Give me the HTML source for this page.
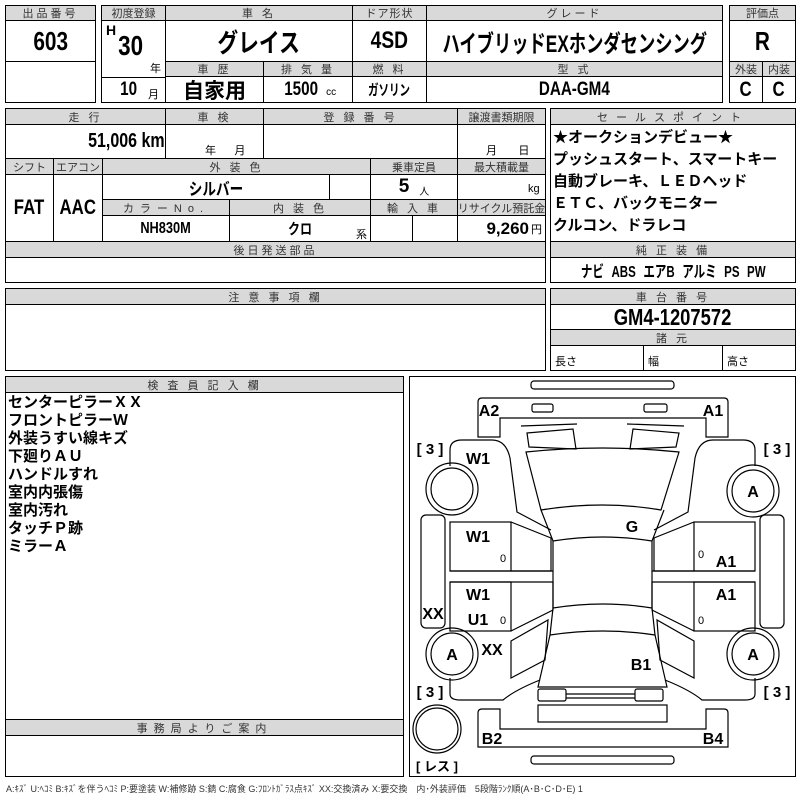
<!DOCTYPE html>
<html><head><meta charset="utf-8"><style>
*{margin:0;padding:0;box-sizing:border-box}
body{width:800px;height:800px;background:#fff;position:relative;overflow:hidden;font-family:"Liberation Sans","Noto Sans CJK JP",sans-serif;color:#000}
.b{position:absolute;border:1px solid #000}
.c{position:absolute;border:1px solid #000;display:flex;align-items:center;justify-content:center;white-space:nowrap}
.h{background:#d9d9d9;font-size:11px;letter-spacing:3px;color:#333}
.v{font-weight:bold}
.n{display:inline-block;transform:scaleX(.8)}
.t{position:absolute;white-space:nowrap}
</style></head><body>
<!-- box1 -->
<div class="c h" style="left:5px;top:5px;width:91px;height:16px">出品番号</div>
<div class="c v" style="left:5px;top:20px;width:91px;height:42px;font-size:26px"><span class="n">603</span></div>
<div class="b" style="left:5px;top:61px;width:91px;height:42px"></div>
<!-- box2 -->
<div class="c h" style="left:101px;top:5px;width:65px;height:16px;letter-spacing:0">初度登録</div>
<div class="c h" style="left:165px;top:5px;width:188px;height:16px">車 名</div>
<div class="c h" style="left:352px;top:5px;width:75px;height:16px;letter-spacing:1px">ドア形状</div>
<div class="c h" style="left:426px;top:5px;width:297px;height:16px">グレード</div>
<div class="b" style="left:101px;top:20px;width:65px;height:58px"></div>
<div class="t v" style="left:106px;top:22px;font-size:14px">H</div>
<div class="t v" style="left:115px;top:30px;font-size:28px"><span class="n">30</span></div>
<div class="t" style="left:150px;top:60px;font-size:11px">年</div>
<div class="b" style="left:101px;top:77px;width:65px;height:26px"></div>
<div class="t v" style="left:118px;top:79px;font-size:19px"><span class="n">10</span></div>
<div class="t" style="left:148px;top:86px;font-size:11px">月</div>
<div class="c v" style="left:165px;top:20px;width:188px;height:42px;font-size:26px"><span class="n">グレイス</span></div>
<div class="c v" style="left:352px;top:20px;width:75px;height:42px;font-size:24px"><span class="n">4SD</span></div>
<div class="c v" style="left:426px;top:20px;width:297px;height:42px;font-size:24px;overflow:hidden"><span class="n" style="transform:scaleX(.72)">ハイブリッドEXホンダセンシング</span></div>
<div class="c h" style="left:165px;top:61px;width:99px;height:16px">車 歴</div>
<div class="c h" style="left:263px;top:61px;width:90px;height:16px">排 気 量</div>
<div class="c h" style="left:352px;top:61px;width:75px;height:16px">燃 料</div>
<div class="c h" style="left:426px;top:61px;width:297px;height:16px">型 式</div>
<div class="c v" style="left:165px;top:76px;width:99px;height:27px;font-size:21px">自家用</div>
<div class="c v" style="left:263px;top:76px;width:90px;height:27px;font-size:19px"><span class="n">1500</span><span style="font-size:10px;font-weight:normal;margin:6px 0 0 4px">cc</span></div>
<div class="c v" style="left:352px;top:76px;width:75px;height:27px;font-size:15px"><span class="n" style="transform:scaleX(.7)">ガソリン</span></div>
<div class="c v" style="left:426px;top:76px;width:297px;height:27px;font-size:19px"><span class="n">DAA-GM4</span></div>
<!-- box3 -->
<div class="c h" style="left:729px;top:5px;width:67px;height:16px;letter-spacing:0">評価点</div>
<div class="c v" style="left:729px;top:20px;width:67px;height:42px;font-size:26px"><span class="n">R</span></div>
<div class="c h" style="left:729px;top:61px;width:34px;height:16px;letter-spacing:0">外装</div>
<div class="c h" style="left:762px;top:61px;width:34px;height:16px;letter-spacing:0">内装</div>
<div class="c v" style="left:729px;top:76px;width:34px;height:27px;font-size:21px"><span class="n">C</span></div>
<div class="c v" style="left:762px;top:76px;width:34px;height:27px;font-size:21px"><span class="n">C</span></div>
<!-- box4 -->
<div class="c h" style="left:5px;top:108px;width:161px;height:17px">走 行</div>
<div class="c h" style="left:165px;top:108px;width:99px;height:17px">車 検</div>
<div class="c h" style="left:263px;top:108px;width:195px;height:17px">登 録 番 号</div>
<div class="c h" style="left:457px;top:108px;width:89px;height:17px;letter-spacing:0">譲渡書類期限</div>
<div class="c v" style="left:5px;top:124px;width:161px;height:35px;font-size:20px;justify-content:flex-end;padding-right:0"><span class="n" style="transform-origin:right">51,006 km</span></div>
<div class="b" style="left:165px;top:124px;width:99px;height:35px"></div>
<div class="t" style="left:205px;top:142px;font-size:11px">年&nbsp;&nbsp;&nbsp;&nbsp;&nbsp;&nbsp;月</div>
<div class="b" style="left:263px;top:124px;width:195px;height:35px"></div>
<div class="b" style="left:457px;top:124px;width:89px;height:35px"></div>
<div class="t" style="left:486px;top:142px;font-size:11px">月&nbsp;&nbsp;&nbsp;&nbsp;&nbsp;&nbsp;&nbsp;日</div>
<div class="c h" style="left:5px;top:158px;width:49px;height:17px;letter-spacing:0">シフト</div>
<div class="c h" style="left:53px;top:158px;width:50px;height:17px;letter-spacing:0">エアコン</div>
<div class="c h" style="left:102px;top:158px;width:269px;height:17px">外 装 色</div>
<div class="c h" style="left:370px;top:158px;width:88px;height:17px;letter-spacing:0">乗車定員</div>
<div class="c h" style="left:457px;top:158px;width:89px;height:17px;letter-spacing:0">最大積載量</div>
<div class="c v" style="left:5px;top:174px;width:49px;height:68px;font-size:21px"><span class="n">FAT</span></div>
<div class="c v" style="left:53px;top:174px;width:50px;height:68px;font-size:21px"><span class="n">AAC</span></div>
<div class="c v" style="left:102px;top:174px;width:228px;height:26px;font-size:17px"><span class="n">シルバー</span></div>
<div class="b" style="left:329px;top:174px;width:42px;height:26px"></div>
<div class="c v" style="left:370px;top:174px;width:88px;height:26px;font-size:19px">5<span style="font-size:10px;font-weight:normal;margin:6px 0 0 10px">人</span></div>
<div class="b" style="left:457px;top:174px;width:89px;height:26px"></div>
<div class="t" style="left:528px;top:183px;font-size:11px">kg</div>
<div class="c h" style="left:102px;top:199px;width:128px;height:17px;letter-spacing:6px">カラーNo.</div>
<div class="c h" style="left:229px;top:199px;width:142px;height:17px">内 装 色</div>
<div class="c h" style="left:370px;top:199px;width:88px;height:17px">輸 入 車</div>
<div class="c h" style="left:457px;top:199px;width:89px;height:17px;letter-spacing:0">リサイクル預託金</div>
<div class="c v" style="left:102px;top:215px;width:128px;height:27px;font-size:16px"><span class="n">NH830M</span></div>
<div class="c v" style="left:229px;top:215px;width:142px;height:27px;font-size:15px"><span class="n">クロ</span></div>
<div class="t" style="left:356px;top:226px;font-size:11px">系</div>
<div class="b" style="left:370px;top:215px;width:43px;height:27px"></div>
<div class="b" style="left:412px;top:215px;width:46px;height:27px"></div>
<div class="c v" style="left:457px;top:215px;width:89px;height:27px;font-size:17px;justify-content:flex-end;padding-right:3px">9,260<span style="font-size:11px;font-weight:normal;margin-left:2px">円</span></div>
<div class="c h" style="left:5px;top:241px;width:541px;height:17px">後日発送部品</div>
<div class="b" style="left:5px;top:257px;width:541px;height:26px"></div>
<!-- box5 -->
<div class="c h" style="left:550px;top:108px;width:246px;height:17px;letter-spacing:8px">セールスポイント</div>
<div class="b" style="left:550px;top:124px;width:246px;height:118px"></div>
<div class="t" style="left:553px;top:127px;font-size:15px;font-weight:bold;line-height:22px">★オークションデビュー★<br>プッシュスタート、スマートキー<br>自動ブレーキ、ＬＥＤヘッド<br>ＥＴＣ、バックモニター<br>クルコン、ドラレコ</div>
<div class="c h" style="left:550px;top:241px;width:246px;height:17px">純 正 装 備</div>
<div class="c v" style="left:550px;top:257px;width:246px;height:26px;font-size:16px;word-spacing:6px"><span class="n" style="transform:scaleX(.72)">ナビ ABS エアB アルミ PS PW</span></div>
<!-- box6 -->
<div class="c h" style="left:5px;top:288px;width:541px;height:17px">注 意 事 項 欄</div>
<div class="b" style="left:5px;top:304px;width:541px;height:67px"></div>
<!-- box7 -->
<div class="c h" style="left:550px;top:288px;width:246px;height:17px">車 台 番 号</div>
<div class="c v" style="left:550px;top:304px;width:246px;height:26px;font-size:23px"><span class="n">GM4-1207572</span></div>
<div class="c h" style="left:550px;top:329px;width:246px;height:17px">諸 元</div>
<div class="b" style="left:550px;top:345px;width:94px;height:26px"></div>
<div class="b" style="left:643px;top:345px;width:80px;height:26px"></div>
<div class="b" style="left:722px;top:345px;width:74px;height:26px"></div>
<div class="t" style="left:555px;top:353px;font-size:11px">長さ</div>
<div class="t" style="left:648px;top:353px;font-size:11px">幅</div>
<div class="t" style="left:727px;top:353px;font-size:11px">高さ</div>
<!-- box8 -->
<div class="c h" style="left:5px;top:376px;width:399px;height:17px">検 査 員 記 入 欄</div>
<div class="b" style="left:5px;top:392px;width:399px;height:328px"></div>
<div class="t" style="left:8px;top:394px;font-size:15px;font-weight:bold;line-height:18px">センターピラーＸＸ<br>フロントピラーＷ<br>外装うすい線キズ<br>下廻りＡＵ<br>ハンドルすれ<br>室内内張傷<br>室内汚れ<br>タッチＰ跡<br>ミラーＡ</div>
<div class="c h" style="left:5px;top:719px;width:399px;height:17px;letter-spacing:6px">事務局よりご案内</div>
<div class="b" style="left:5px;top:735px;width:399px;height:42px"></div>
<!-- diagram -->
<div class="b" style="left:409px;top:376px;width:387px;height:401px"></div>
<svg style="position:absolute;left:0;top:0" width="800" height="800" viewBox="0 0 800 800">
<g fill="none" stroke="#000" stroke-width="1.2">
<rect x="531" y="381" width="143" height="8" rx="3"/>
<path d="M482,398 H724 Q728,398 728,402 V437 H706 V418 H500 V437 H478 V402 Q478,398 482,398 Z"/>
<rect x="532" y="404" width="21" height="8" rx="2"/>
<rect x="644" y="404" width="23" height="8" rx="2"/>
<path d="M521,426 L577,424"/><path d="M627,424 L684,426"/>
<path d="M527,433 L573,429 L576,449 L529,447 Z"/>
<path d="M633,429 L679,433 L676,447 L630,449 Z"/>
<path d="M526,452 Q603,444 679,452 L661,510 Q603,500 541,510 Z"/>
<path d="M541,510 L553,541 Q603,533 652,541 L664,510"/>
<path d="M553,541 V608 M652,541 V608"/>
<path d="M553,608 Q603,600 652,608 L655,635 Q603,627 550,635 Z"/>
<path d="M550,635 L538,687 L667,687 L655,635"/>
<rect x="538" y="689" width="28" height="12" rx="2"/>
<rect x="635" y="689" width="28" height="12" rx="2"/>
<path d="M566,694 H635 M566,698 H635"/>
<rect x="538" y="705" width="129" height="17"/>
<path d="M478,747 V713 Q478,709 482,709 H500 V729 H706 V709 H724 Q728,709 728,713 V747 Z"/>
<rect x="531" y="756" width="143" height="8" rx="3"/>
<path d="M450,466 V450 Q450,440 462,440 H492 Q506,440 510,458 L517,512 L551,530"/>
<path d="M755,466 V450 Q755,440 743,440 H713 Q699,440 695,458 L688,512 L654,530"/>
<rect x="450" y="522" width="61" height="49"/>
<path d="M511,522 L551,538 V571 H511"/>
<path d="M450,571 H553 M450,582 H553"/>
<rect x="450" y="582" width="61" height="49"/>
<path d="M511,631 L553,610 V582"/>
<rect x="694" y="522" width="61" height="49"/>
<path d="M694,522 L654,538 V571 H694"/>
<path d="M755,571 H652 M755,582 H652"/>
<rect x="694" y="582" width="61" height="49"/>
<path d="M694,631 L652,610 V582"/>
<path d="M450,678 V694 Q450,700 460,700 H503 Q515,690 540,680 M511,641 L548,620 L545,660 L511,678 Z"/>
<path d="M755,678 V694 Q755,700 745,700 H702 Q690,690 665,680 M694,641 L657,620 L660,660 L694,678 Z"/>
<rect x="421" y="515" width="24" height="113" rx="5"/>
<rect x="760" y="515" width="24" height="113" rx="5"/>
<circle cx="452" cy="489" r="26"/><circle cx="452" cy="489" r="21"/>
<circle cx="753" cy="491" r="26"/><circle cx="753" cy="491" r="21"/>
<circle cx="452" cy="654" r="26"/><circle cx="452" cy="654" r="21"/>
<circle cx="753" cy="654" r="26"/><circle cx="753" cy="654" r="21"/>
<circle cx="437" cy="729" r="24"/><circle cx="437" cy="729" r="21"/>
</g>
<g font-family="Liberation Sans,sans-serif" font-weight="bold" font-size="16" text-anchor="middle">
<text x="489" y="416">A2</text><text x="713" y="416">A1</text>
<text x="478" y="464">W1</text><text x="478" y="542">W1</text><text x="478" y="600">W1</text><text x="478" y="625">U1</text>
<text x="726" y="567">A1</text><text x="726" y="600">A1</text>
<text x="433" y="619">XX</text><text x="492" y="655">XX</text>
<text x="452" y="660">A</text><text x="753" y="660">A</text><text x="753" y="497">A</text>
<text x="632" y="532">G</text><text x="641" y="670">B1</text>
<text x="492" y="744">B2</text><text x="713" y="744">B4</text>
</g>
<g font-family="Liberation Sans,sans-serif" font-size="11" text-anchor="middle">
<text x="503" y="562">0</text><text x="503" y="624">0</text><text x="701" y="558">0</text><text x="701" y="624">0</text>
</g>
<g font-family="Liberation Sans,sans-serif" font-size="15" font-weight="bold" text-anchor="middle">
<text x="430" y="454">[ 3 ]</text><text x="777" y="454">[ 3 ]</text>
<text x="430" y="697">[ 3 ]</text><text x="777" y="697">[ 3 ]</text>
<text x="437" y="771" font-family="Liberation Sans,Noto Sans CJK JP,sans-serif" font-size="13">[ レス ]</text>
</g>
</svg>
<div class="t" style="left:6px;top:782px;font-size:9px;color:#333">A:ｷｽﾞ U:ﾍｺﾐ B:ｷｽﾞを伴うﾍｺﾐ P:要塗装 W:補修跡 S:錆 C:腐食 G:ﾌﾛﾝﾄｶﾞﾗｽ点ｷｽﾞ XX:交換済み X:要交換　内･外装評価　5段階ﾗﾝｸ順(A･B･C･D･E) 1</div>
</body></html>
